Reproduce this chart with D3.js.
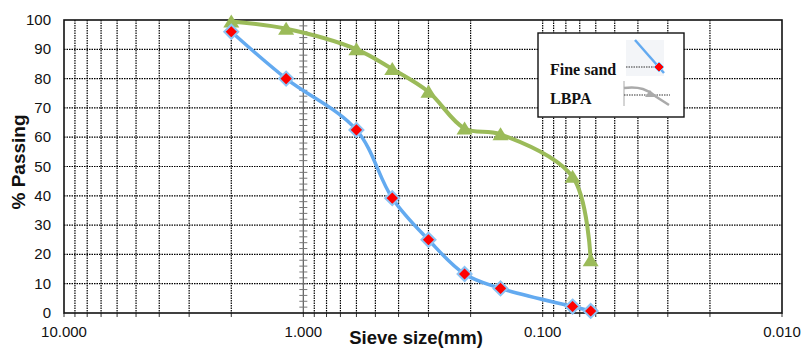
<!DOCTYPE html>
<html><head><meta charset="utf-8">
<script src="https://cdn.jsdelivr.net/npm/d3@7"></script>
<style>body{margin:0;background:#fff}svg{display:block}</style>
</head><body>
<svg id="c" width="803" height="349"></svg>
<script>
const sieveSizes = [2.0, 1.18, 0.6, 0.425, 0.3, 0.212, 0.15, 0.075, 0.063];
const fineSand = [96, 80, 62.5, 39.2, 25, 13.3, 8.4, 2.2, 0.7];
const lbpa = [99.5, 97, 90, 83.3, 75.5, 63, 61, 46.5, 18];
const xTickLabels = ["10.000", "1.000", "0.100", "0.010"];
const xTickValues = [10, 1, 0.1, 0.01];
const yTicks = [0,10,20,30,40,50,60,70,80,90,100];
const legendNames = ["Fine sand", "LBPA"];

const svg = d3.select("#c");
const L = 64, R = 782, T = 20, B = 313;
const x = d3.scaleLog().domain([10, 0.01]).range([L, R]);
const y = d3.scaleLinear().domain([0, 100]).range([B, T]);

// minor gridlines
const minor = [];
[10, 1, 0.1].forEach(d => { for (let k = 2; k <= 9; k++) minor.push(d * k / 10); });
const grid = svg.append("g");
grid.selectAll("line.v").data(minor.concat([0.1])).enter().append("line")
  .attr("x1", d => x(d)).attr("x2", d => x(d)).attr("y1", T).attr("y2", B)
  .attr("stroke", "#000").attr("stroke-width", 1.2).attr("stroke-dasharray", "1.5,1");
grid.selectAll("line.h").data(yTicks.slice(1, -1)).enter().append("line")
  .attr("x1", L).attr("x2", R).attr("y1", d => y(d)).attr("y2", d => y(d))
  .attr("stroke", "#000").attr("stroke-width", 1.2).attr("stroke-dasharray", "1.5,1");

// the x=1 line with small ticks
grid.append("line").attr("x1", x(1)).attr("x2", x(1)).attr("y1", T).attr("y2", B)
  .attr("stroke", "#666").attr("stroke-width", 1.3);
grid.selectAll("line.t").data(d3.range(2, 100, 2)).enter().append("line")
  .attr("x1", x(1) - 4).attr("x2", x(1) + 4).attr("y1", d => y(d)).attr("y2", d => y(d))
  .attr("stroke", "#777").attr("stroke-width", 1);

// x axis tick marks
svg.append("g").selectAll("line").data(minor.concat(xTickValues)).enter().append("line")
  .attr("x1", d => x(d)).attr("x2", d => x(d)).attr("y1", B).attr("y2", B + 4)
  .attr("stroke", "#333").attr("stroke-width", 1);

// plot border
svg.append("rect").attr("x", L).attr("y", T).attr("width", R - L).attr("height", B - T)
  .attr("fill", "none").attr("stroke", "#111").attr("stroke-width", 1.6);

// tick labels
svg.append("g").selectAll("text").data(yTicks).enter().append("text")
  .attr("x", 51).attr("y", d => y(d) + 5).attr("text-anchor", "end")
  .attr("font-family", "Liberation Sans, Arial, sans-serif").attr("font-size", 15).attr("fill", "#111")
  .text(d => d);
svg.append("g").selectAll("text").data(xTickValues).enter().append("text")
  .attr("x", d => x(d)).attr("y", 337).attr("text-anchor", "middle")
  .attr("font-family", "Liberation Sans, Arial, sans-serif").attr("font-size", 15).attr("fill", "#111")
  .text((d, i) => xTickLabels[i]);

// axis titles
svg.append("text").attr("x", 416).attr("y", 344).attr("text-anchor", "middle")
  .attr("font-family", "Liberation Sans, Arial, sans-serif").attr("font-weight", "bold").attr("font-size", 18.5)
  .attr("fill", "#111").text("Sieve size(mm)");
svg.append("text").attr("transform", "translate(25,162) rotate(-90)").attr("text-anchor", "middle")
  .attr("font-family", "Liberation Sans, Arial, sans-serif").attr("font-weight", "bold").attr("font-size", 19)
  .attr("fill", "#111").text("% Passing");

const line = d3.line().curve(d3.curveCatmullRom.alpha(0.5));

// LBPA
const gPts = sieveSizes.map((s, i) => [x(s), y(lbpa[i])]);
svg.append("path").attr("d", line(gPts)).attr("fill", "none").attr("stroke", "#9bbb59").attr("stroke-width", 4);
svg.append("g").selectAll("path").data(gPts).enter().append("path")
  .attr("transform", d => `translate(${d[0]},${d[1]})`)
  .attr("d", "M0,-7 L8,6 L-8,6 Z").attr("fill", "#9bbb59");

// Fine sand
const bPts = sieveSizes.map((s, i) => [x(s), y(fineSand[i])]);
svg.append("path").attr("d", line(bPts)).attr("fill", "none").attr("stroke", "#63aaf0").attr("stroke-width", 3.5);
svg.append("g").selectAll("path").data(bPts).enter().append("path")
  .attr("transform", d => `translate(${d[0]},${d[1]})`)
  .attr("d", "M0,-7 L7,0 L0,7 L-7,0 Z").attr("fill", "#ff0000")
  .attr("stroke", "#8cc4f5").attr("stroke-width", 2);

// legend
const lg = svg.append("g");
lg.append("rect").attr("x", 538).attr("y", 33).attr("width", 146).attr("height", 84)
  .attr("fill", "#fff").attr("stroke", "#111").attr("stroke-width", 1.4);
lg.selectAll("text").data(legendNames).enter().append("text")
  .attr("x", 550).attr("y", (d, i) => 75 + i * 29)
  .attr("font-family", "Liberation Serif, Times New Roman, serif").attr("font-weight", "bold").attr("font-size", 16)
  .attr("fill", "#111").text(d => d);
// symbol 1
lg.append("rect").attr("x", 626).attr("y", 40).attr("width", 38).attr("height", 36).attr("fill", "#f3f5f8");
lg.append("line").attr("x1", 626).attr("x2", 655).attr("y1", 67).attr("y2", 67)
  .attr("stroke", "#333").attr("stroke-width", 1).attr("stroke-dasharray", "1.5,1");
lg.append("line").attr("x1", 635).attr("y1", 40).attr("x2", 664).attr("y2", 73)
  .attr("stroke", "#63aaf0").attr("stroke-width", 2.5);
lg.append("path").attr("transform", "translate(659,67)").attr("d", "M0,-5 L5,0 L0,5 L-5,0 Z")
  .attr("fill", "#ff0000").attr("stroke", "#8cc4f5").attr("stroke-width", 1);
// symbol 2
lg.append("line").attr("x1", 624).attr("x2", 624).attr("y1", 81).attr("y2", 106)
  .attr("stroke", "#aaa").attr("stroke-width", 1);
lg.append("line").attr("x1", 624).attr("x2", 670).attr("y1", 95).attr("y2", 95)
  .attr("stroke", "#333").attr("stroke-width", 1).attr("stroke-dasharray", "1.5,1");
lg.append("path").attr("d", "M624,88 C640,86 648,90 655,96 L669,105")
  .attr("fill", "none").attr("stroke", "#aaa").attr("stroke-width", 2.5);
lg.append("path").attr("transform", "translate(650,94)").attr("d", "M0,-4 L5,3 L-5,3 Z").attr("fill", "#aaa");
</script>
</body></html>
